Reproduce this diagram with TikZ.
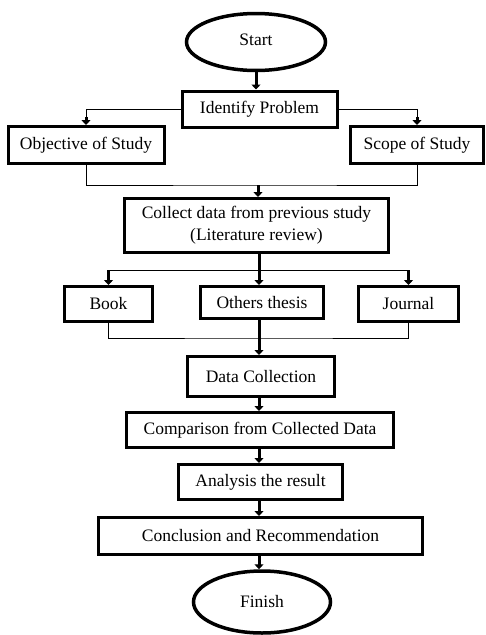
\documentclass[tikz,border=0pt]{standalone}
\usepackage{fontspec}
\setmainfont{Liberation Serif}
\usetikzlibrary{arrows.meta,shapes.geometric}
\tikzset{box/.style={draw,line width=3pt,inner sep=0pt,align=center,font=\fontsize{17.5}{22}\selectfont},
  oval/.style={draw,ellipse,line width=3.5pt,inner sep=0pt,font=\fontsize{17.5}{22}\selectfont},
  arr/.style={line width=3pt,-{Triangle[width=9pt,length=5pt]}},
  stem/.style={line width=3pt},
  thinline/.style={line width=1pt}}

\begin{document}
\begin{tikzpicture}[x=1pt,y=-1pt]
            \useasboundingbox (0,0) rectangle (486,635);
            % start
            \node[oval,minimum width=139,minimum height=57] (start) at (256,42) {\raisebox{5pt}{Start}};
            \node[box,minimum width=155,minimum height=36] (ident) at (259.5,109) {Identify Problem};
            \node[box,minimum width=156,minimum height=37] (obj) at (86,145) {Objective of Study};
            \node[box,minimum width=133,minimum height=37] (scope) at (417,145) {Scope of Study};
            % literature
            \node[box,minimum width=264,minimum height=54] (collect) at (256.5,225.5) {Collect data from previous study\\(Literature review)};
            \node[box,minimum width=88,minimum height=35] (book) at (108.5,304) {Book};
            \node[box,minimum width=123,minimum height=32] (others) at (262,302.5) {Others thesis};
            \node[box,minimum width=100,minimum height=35] (journal) at (408.5,304) {Journal};
            % data
            \node[box,minimum width=147,minimum height=40] (datacol) at (261,376.5) {Data Collection};
            \node[box,minimum width=267,minimum height=35] (compar) at (260,430) {Comparison from Collected Data};
            \node[box,minimum width=164,minimum height=35] (analysis) at (260.5,482) {Analysis the result};
            \node[box,minimum width=324,minimum height=37] (concl) at (260.5,536) {Conclusion and Recommendation};
            \node[oval,minimum width=137,minimum height=62] (finish) at (262,602) {Finish};

            % connectors
            \coordinate (join1) at (258,185);
            \coordinate (split2) at (259,270);
            \coordinate (join2) at (259,338);
            \draw[arr] (start.south) -- (start.south |- ident.north);
            \draw[thinline] (ident.west) -| ([yshift=7]obj.north);
            \draw[thinline] (ident.east) -| ([yshift=7]scope.north);
            \draw[arr] ([yshift=8]obj.north) -- (obj.north);
            \draw[arr] ([yshift=8]scope.north) -- (scope.north);
            \draw[thinline] (obj.south) |- (join1) -| (scope.south);
            \draw[arr] (join1) -- (join1 |- collect.north);
            \draw[stem] (collect.south -| split2) -- (split2);
            \draw[thinline] (book.north |- split2) -- (journal.north |- split2);
            \draw[arr] (book.north |- split2) -- (book.north);
            \draw[arr] (journal.north |- split2) -- (journal.north);
            \draw[arr] (split2) -- (split2 |- others.north);
            \draw[thinline] (book.south) |- (join2) -| (journal.south);
            \draw[arr] (others.south -| join2) -- (join2 |- datacol.north);
            \draw[arr] (datacol.south -| join2) -- (join2 |- compar.north);
            \draw[arr] (compar.south -| join2) -- (join2 |- analysis.north);
            \draw[arr] (analysis.south -| join2) -- (join2 |- concl.north);
            \draw[arr] (concl.south -| join2) -- (join2 |- finish.north);
\end{tikzpicture}
\end{document}
